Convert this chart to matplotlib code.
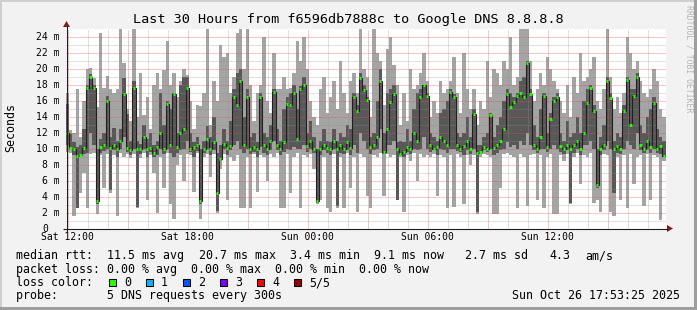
"""SmokePing-style latency graph: f6596db7888c -> Google DNS 8.8.8.8, last 30 hours."""
import numpy as np
import matplotlib
matplotlib.use("Agg")
import matplotlib.pyplot as plt
from matplotlib.patches import Rectangle, Polygon
from matplotlib.transforms import blended_transform_factory, offset_copy

W, H = 697, 310
MONO = "DejaVu Sans Mono"

# hours counted from Sat 00:00; the graph ends Sun Oct 26 17:53:25
END_H = 24 + 17 + 53 / 60 + 25 / 3600
START_H = END_H - 30

# 5 DNS requests per 10 min bucket, sorted: min, 2nd, median, 4th, max (ms)
ping_min = [
    9.6, 9.4, 1.5, 2.5, 4.4, 6.9, 2.5, 9.3, 9.4, 1.8, 9.2, 5.1, 9.3, 4.4, 9.2, 1.6, 9.4, 9.0,
    9.3, 8.8, 9.3, 2.6, 8.8, 9.5, 3.5, 9.2, 7.0, 1.9, 9.0, 5.0, 9.4, 3.0, 1.2, 8.0, 9.2, 6.0,
    9.3, 9.2, 4.5, 9.4, 1.2, 9.0, 9.3, 6.5, 9.3, 1.9, 7.5, 9.3, 3.5, 9.0, 8.5, 9.2, 2.5, 2.5,
    9.0, 2.5, 9.3, 4.5, 9.2, 9.0, 6.0, 9.3, 9.0, 9.4, 2.5, 2.5, 9.3, 4.4, 9.0, 9.4, 2.6, 9.2,
    9.0, 9.3, 7.5, 3.0, 3.5, 9.0, 2.5, 2.1, 9.3, 2.6, 9.0, 2.5, 9.4, 5.0, 9.0, 2.1, 9.3, 9.0,
    4.0, 2.5, 9.2, 9.0, 9.4, 4.0, 9.3, 9.0, 9.2, 3.5, 9.0, 2.0, 9.2, 8.5, 9.4, 6.0, 9.3, 9.0,
    9.2, 9.0, 9.3, 4.0, 9.2, 9.0, 2.5, 9.2, 2.7, 9.3, 9.0, 3.0, 9.2, 8.0, 9.2, 1.8, 9.0, 9.3,
    9.2, 9.0, 1.8, 1.8, 5.0, 9.3, 9.4, 9.2, 9.0, 2.5, 9.3, 9.0, 2.8, 9.2, 9.3, 3.5, 9.2, 2.5,
    9.0, 9.3, 1.8, 1.8, 9.2, 8.5, 9.3, 3.0, 9.0, 9.4, 5.5, 9.2, 9.0, 9.4, 3.2, 3.5, 2.0, 9.3,
    9.2, 2.0, 1.5, 9.0, 3.5, 9.2, 2.5, 9.3, 5.6, 9.0, 9.2, 2.8, 9.3, 3.5, 9.2, 9.0, 1.0, 8.5,
]
ping_lo = [
    10.5, 9.8, 9.2, 2.6, 9.0, 9.3, 9.5, 12.0, 10.4, 3.0, 9.5, 9.7, 10.0, 4.8, 9.8, 9.0, 10.0, 11.5,
    9.6, 9.2, 10.0, 2.7, 9.3, 10.0, 9.0, 9.6, 9.0, 9.2, 10.0, 9.3, 10.0, 9.4, 9.0, 9.5, 9.8, 10.0,
    11.0, 9.6, 9.0, 9.7, 3.0, 9.5, 10.0, 9.2, 9.8, 2.2, 8.5, 10.0, 9.2, 9.8, 10.5, 11.0, 10.0, 9.5,
    10.0, 9.3, 9.6, 9.0, 10.2, 9.5, 9.2, 9.8, 11.0, 9.8, 9.2, 9.6, 10.0, 9.8, 10.2, 10.0, 10.0, 10.5,
    9.6, 10.0, 9.4, 3.2, 9.2, 9.8, 9.4, 9.2, 10.0, 2.8, 9.5, 9.3, 9.8, 9.2, 10.5, 9.5, 12.0, 11.0,
    10.0, 9.3, 9.8, 10.0, 12.5, 9.3, 10.5, 10.5, 11.0, 3.6, 9.3, 9.0, 9.6, 9.3, 10.0, 9.8, 10.0, 11.5,
    10.0, 9.6, 9.8, 9.2, 10.0, 9.8, 9.5, 10.0, 10.0, 9.7, 9.6, 9.2, 9.8, 9.3, 10.0, 2.0, 9.3, 9.8,
    9.6, 10.0, 9.2, 9.4, 9.8, 10.0, 10.8, 10.2, 10.5, 10.0, 11.0, 10.5, 12.0, 10.5, 9.8, 9.4, 10.0, 10.0,
    9.6, 10.0, 10.5, 10.0, 9.6, 9.3, 9.8, 3.2, 9.5, 10.0, 9.2, 10.5, 10.5, 11.0, 10.0, 5.0, 9.2, 9.8,
    11.0, 10.0, 4.4, 9.5, 9.3, 10.0, 11.0, 10.5, 10.0, 12.0, 9.8, 9.4, 10.0, 9.5, 10.0, 9.5, 9.3, 9.0,
]
median = [
    11.9, 10.1, 10.0, 9.1, 9.2, 10.1, 17.6, 18.9, 17.6, 3.4, 10.2, 10.5, 15.9, 10.1, 10.4, 10.0, 11.0, 16.8,
    10.1, 9.8, 17.6, 10.0, 10.0, 11.5, 10.0, 10.1, 9.5, 10.2, 12.0, 10.0, 15.6, 10.4, 16.8, 10.2, 11.9, 12.5,
    17.6, 10.0, 10.2, 10.5, 3.5, 10.0, 11.2, 10.0, 10.8, 4.4, 8.7, 10.6, 10.1, 10.3, 16.5, 15.4, 18.4, 10.5,
    16.5, 10.0, 10.2, 10.0, 16.5, 10.4, 10.0, 11.0, 17.1, 10.5, 10.0, 10.8, 15.6, 15.4, 16.9, 11.2, 17.4, 17.9,
    10.3, 11.0, 10.0, 3.4, 10.0, 10.5, 10.1, 10.0, 11.0, 10.0, 10.4, 10.0, 10.8, 10.1, 16.5, 14.7, 18.8, 17.3,
    16.1, 10.2, 10.5, 11.5, 18.5, 9.6, 12.5, 15.8, 16.8, 10.0, 9.3, 9.6, 10.2, 10.0, 12.0, 11.0, 16.5, 17.9,
    16.6, 10.4, 10.0, 10.2, 11.5, 11.0, 10.5, 17.1, 16.5, 10.5, 10.0, 10.3, 11.0, 10.0, 14.3, 9.5, 9.6, 10.2,
    10.0, 14.2, 10.1, 10.5, 11.0, 12.5, 16.8, 15.2, 15.8, 16.6, 16.9, 16.5, 20.7, 16.8, 10.5, 10.0, 11.5, 16.6,
    10.2, 13.7, 15.9, 16.5, 10.3, 10.0, 10.5, 10.0, 10.4, 11.0, 10.0, 12.0, 15.7, 17.6, 14.7, 5.5, 10.0, 10.5,
    18.5, 16.3, 10.0, 10.3, 10.0, 14.7, 18.6, 13.0, 16.6, 18.9, 10.5, 10.0, 11.0, 10.2, 15.7, 10.0, 10.3, 9.1,
]
ping_hi = [
    15.6, 11.8, 10.8, 10.2, 10.5, 12.5, 17.9, 19.3, 18.0, 10.0, 11.2, 12.0, 16.6, 11.5, 12.6, 10.9, 12.5, 18.8,
    14.3, 11.0, 18.5, 11.0, 10.6, 13.0, 11.2, 12.0, 10.5, 11.0, 17.0, 13.0, 16.0, 15.0, 17.0, 12.0, 18.0, 19.0,
    19.0, 12.0, 10.8, 11.5, 10.0, 11.0, 12.8, 11.5, 14.0, 9.5, 10.5, 12.5, 11.0, 13.5, 17.5, 19.5, 20.0, 14.0,
    17.5, 11.5, 12.0, 10.8, 17.0, 12.0, 11.5, 13.0, 17.5, 12.5, 11.0, 15.0, 16.5, 17.0, 18.0, 15.0, 17.8, 19.0,
    12.0, 13.5, 11.5, 10.0, 11.0, 12.5, 11.0, 10.8, 12.5, 11.0, 12.0, 11.5, 13.0, 12.5, 17.0, 15.5, 19.5, 18.0,
    16.5, 11.5, 12.0, 16.0, 20.0, 12.0, 17.0, 17.5, 18.0, 10.8, 11.0, 10.8, 12.5, 11.0, 15.0, 17.0, 17.5, 18.0,
    17.0, 12.0, 11.5, 11.0, 14.5, 15.0, 16.0, 17.5, 16.8, 12.0, 11.5, 12.0, 14.0, 11.5, 15.0, 10.5, 10.5, 11.5,
    12.0, 14.5, 11.5, 13.0, 14.0, 16.0, 17.5, 17.0, 16.5, 17.0, 18.5, 19.0, 21.0, 17.5, 13.0, 11.5, 15.0, 17.0,
    12.0, 14.5, 16.5, 17.0, 12.0, 11.0, 13.5, 11.5, 12.0, 14.0, 12.0, 16.0, 17.5, 18.0, 15.5, 10.0, 11.5, 13.0,
    19.0, 17.0, 11.0, 12.0, 11.5, 15.5, 19.0, 17.5, 17.5, 19.5, 13.0, 12.0, 14.0, 15.0, 16.5, 12.5, 11.5, 11.0,
]
ping_max = [
    17.0, 12.3, 12.0, 17.4, 11.5, 16.0, 20.0, 20.1, 18.8, 15.2, 24.4, 17.6, 19.1, 17.5, 17.0, 17.4, 25.0, 20.7,
    15.0, 13.5, 25.0, 14.0, 19.5, 14.2, 16.5, 12.5, 18.0, 19.5, 17.5, 19.8, 23.5, 18.0, 19.5, 16.5, 18.5, 20.0,
    19.2, 16.0, 12.5, 15.5, 15.3, 17.0, 25.0, 13.0, 18.5, 16.0, 23.0, 21.5, 22.0, 17.0, 19.0, 24.5, 25.0, 20.0,
    25.0, 18.0, 13.5, 17.0, 18.0, 24.0, 16.0, 14.5, 22.0, 17.5, 17.5, 19.0, 17.5, 17.6, 19.5, 23.5, 21.0, 24.0,
    20.0, 16.0, 14.0, 13.0, 17.5, 19.0, 14.5, 16.5, 18.5, 15.0, 21.0, 17.0, 14.5, 18.5, 19.5, 17.0, 25.0, 20.0,
    19.0, 14.0, 25.0, 22.0, 21.0, 15.5, 22.5, 24.0, 20.5, 18.0, 13.0, 17.0, 13.5, 20.0, 17.5, 18.0, 19.5, 22.0,
    18.5, 14.0, 16.0, 14.5, 18.5, 17.0, 17.5, 18.5, 21.5, 17.0, 14.5, 22.0, 17.5, 15.0, 17.5, 13.0, 16.0, 15.0,
    21.0, 16.5, 20.0, 19.5, 18.0, 21.0, 20.0, 24.0, 18.0, 19.0, 25.0, 25.0, 25.0, 21.0, 16.0, 17.5, 19.5, 18.0,
    21.5, 20.0, 18.5, 17.5, 16.0, 14.5, 18.0, 14.0, 19.0, 17.0, 22.0, 18.5, 19.0, 20.0, 21.5, 16.0, 15.0, 17.5,
    25.0, 19.0, 15.0, 16.5, 14.5, 17.0, 24.0, 22.0, 20.0, 21.0, 18.5, 17.0, 16.5, 17.5, 20.0, 18.5, 15.0, 14.0,
]

y_ticks = list(range(0, 25, 2))
y_labels = [f"{v} m" if v else "0" for v in y_ticks]
x_ticks = [12, 18, 24, 30, 36]
x_labels = ["Sat 12:00", "Sat 18:00", "Sun 00:00", "Sun 06:00", "Sun 12:00"]

loss_labels = ["0", "1", "2", "3", "4", "5/5"]
loss_colors = ["#26ff00", "#00b8ff", "#0059ff", "#7e00ff", "#ff0000", "#a10000"]

title = "Last 30 Hours from f6596db7888c to Google DNS 8.8.8.8"
rtt_parts = [("median rtt:", 16), ("11.5 ms avg", 107), ("20.7 ms max", 199),
             ("3.4 ms min", 290), ("9.1 ms now", 374), ("2.7 ms sd", 465),
             ("4.3", 549), ("am/s", 585)]
loss_line = "packet loss: 0.00 % avg  0.00 % max  0.00 % min  0.00 % now"
probe_line = "probe:       5 DNS requests every 300s"
stamp = "Sun Oct 26 17:53:25 2025"

GRID = (0.56, 0.56, 0.56, 0.55)
MGRID = (0.87, 0.31, 0.31, 0.60)
ARROW = "#801f1f"
AXIS = "#1f1f1f"
DOT = (0, (1, 1))


def ext(a):
    return np.r_[a, a[-1]]


fig = plt.figure(figsize=(W / 100, H / 100), dpi=100, facecolor="#f2f2f2")
ax = fig.add_axes([65.5 / W, 1 - 228.5 / H, 600 / W, 200 / H])
ax.set_facecolor("white")
ax.set_xlim(START_H, END_H)
ax.set_ylim(0, 25)
for s in ax.spines.values():
    s.set_visible(False)

edges = np.linspace(START_H, END_H, len(median) + 1)
step = edges[1] - edges[0]
ax.fill_between(edges, ext(ping_min), ext(ping_max), step="post",
                color="#a4a4a4", lw=0, zorder=1)
ax.fill_between(edges, ext(ping_lo), ext(ping_hi), step="post",
                color="#585858", lw=0, zorder=2)

# rrdtool paints its grid over the smoke
hours = np.arange(12, 42)
ax.vlines(hours[hours % 3 != 0], 0, 25, colors=[GRID], lw=0.72, linestyles=DOT, zorder=3)
ax.vlines(hours[hours % 3 == 0], 0, 25, colors=[MGRID], lw=0.72, linestyles=DOT, zorder=3)
ax.hlines(range(1, 25, 2), START_H, END_H, colors=[GRID], lw=0.72, linestyles=DOT, zorder=3)
ax.hlines(range(2, 25, 2), START_H, END_H, colors=[MGRID], lw=0.72, linestyles=DOT, zorder=3)

ax.stairs(median, edges, baseline=None, color="#202020", lw=0.8, zorder=4)
ax.hlines(median, edges[:-1] + 0.2 * step, edges[1:] - 0.2 * step,
          colors=loss_colors[0], lw=2.1, zorder=5)

ax.set_xticks(x_ticks, x_labels, fontfamily=MONO, fontsize=7)
ax.set_yticks([])
ax.tick_params(axis="x", length=0, pad=2.7)
ylab = blended_transform_factory(ax.transAxes, ax.transData)
for v, lab in zip(y_ticks, y_labels):
    dx = -5.5 if v else -17.5
    ax.text(0, v, lab, transform=offset_copy(ylab, fig=fig, x=dx, units="dots"),
            ha="right", va="center", fontfamily=MONO, fontsize=7, clip_on=False)

# overlay in pixel coordinates for frame, axes arrows and legend
ov = fig.add_axes([0, 0, 1, 1], zorder=10)
ov.set_xlim(0, W)
ov.set_ylim(H, 0)
ov.axis("off")
ov.patch.set_alpha(0)

ov.add_patch(Rectangle((0, 0), W, 2, color="#cfcfcf", lw=0))
ov.add_patch(Rectangle((0, 0), 2, H, color="#cfcfcf", lw=0))
ov.add_patch(Rectangle((0, H - 3), W, 3, color="#9e9e9e", lw=0))
ov.add_patch(Rectangle((W - 3, 0), 3, H, color="#9e9e9e", lw=0))

ov.plot([63, 668], [228.5, 228.5], color=AXIS, lw=0.8, solid_capstyle="butt")
ov.plot([66.5, 66.5], [232, 26], color=AXIS, lw=0.8, solid_capstyle="butt")
ov.add_patch(Polygon([(667, 225), (673, 228.5), (667, 232)], color=ARROW, lw=0))
ov.add_patch(Polygon([(63, 27), (66.5, 21), (70, 27)], color=ARROW, lw=0))

txt = dict(fontfamily=MONO, color="black")
ov.text(348.5, 19, title, ha="center", va="center", fontsize=9.7, **txt)
ov.text(11, 128, "Seconds", rotation=90, ha="center", va="center", fontsize=8.4, **txt)
ov.text(688.5, 5, "RRDTOOL / TOBI OETIKER", rotation=270, ha="center", va="top",
        fontsize=5.9, fontfamily=MONO, color="#b4b4b4")

for s, x in rtt_parts:
    ov.text(x, 259.3, s, ha="left", va="baseline", fontsize=8.4, **txt)
ov.text(16, 272.7, loss_line, ha="left", va="baseline", fontsize=8.4, **txt)
ov.text(16, 286, "loss color:", ha="left", va="baseline", fontsize=8.4, **txt)
for i, (lab, col) in enumerate(zip(loss_labels, loss_colors)):
    x = 108.5 + i * 37.0
    ov.add_patch(Rectangle((x, 278.5), 7.5, 7.5, facecolor=col, edgecolor="black", lw=0.75))
    ov.text(x + 15.5, 286, lab, ha="left", va="baseline", fontsize=8.4, **txt)
ov.text(16, 299.3, probe_line, ha="left", va="baseline", fontsize=8.4, **txt)
ov.text(680, 299.3, stamp, ha="right", va="baseline", fontsize=8.4, **txt)

fig.savefig("out.png", dpi=100, facecolor=fig.get_facecolor())
